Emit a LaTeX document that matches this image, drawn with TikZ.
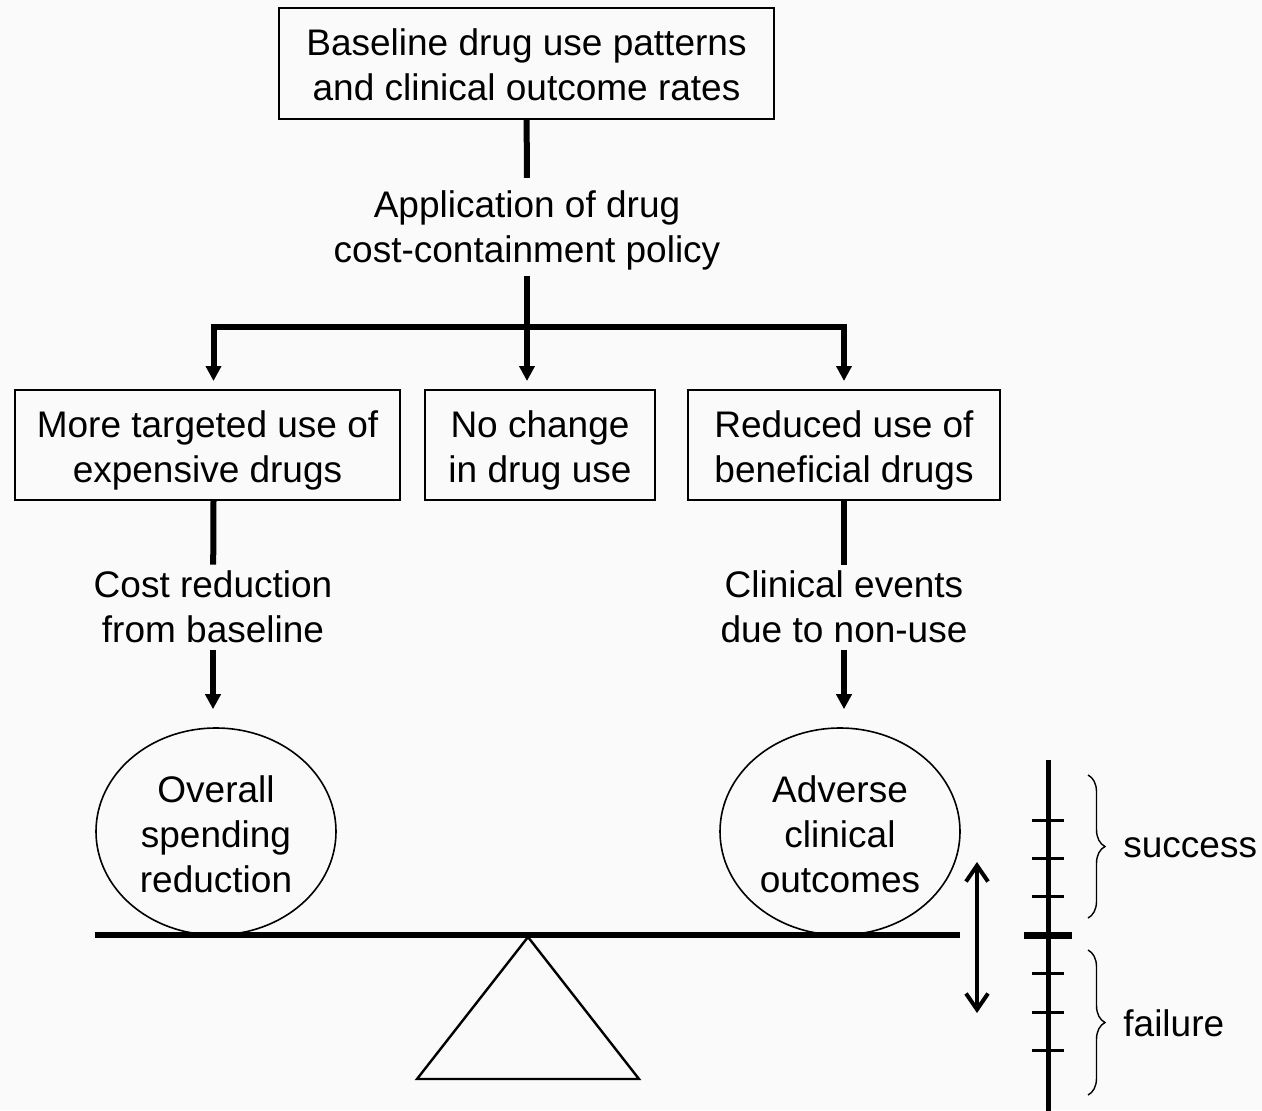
\documentclass[tikz,border=0pt]{standalone}
\usepackage{fontspec}
\setmainfont{Liberation Sans}
\usepackage{tikz}
\usetikzlibrary{positioning, arrows, arrows.meta, shapes.geometric, decorations.pathreplacing}
\definecolor{paper}{RGB}{250,250,250}
\newcommand{\lift}[1]{\rule{0pt}{#1}}

\begin{document}
\begin{tikzpicture}[x=0.5pt, y=-0.5pt,
  font=\fontsize{18.5}{22.5}\selectfont,
  box/.style={draw, line width=1pt, align=center, inner sep=0pt},
  lbl/.style={align=center, inner sep=3pt},
  pot/.style={draw, ellipse, line width=0.8pt, align=center, inner sep=0pt, minimum width=120pt, minimum height=103.5pt},
  link/.style={line width=3pt},
  arr/.style={line width=3pt, -{Triangle[width=7.5pt,length=7.5pt]}},
  tick/.style={line width=1.5pt}]
\fill[paper] (0,0) rectangle (1262,1110);
\useasboundingbox (0,0) rectangle (1262,1110);

\node[box, minimum width=247.5pt, minimum height=55.5pt] (base) at (526.5,63.5) {\lift{15pt}Baseline drug use patterns\\and clinical outcome rates};
\node[lbl] (apply) at (527,227) {\lift{16.5pt}Application of drug\\cost-containment policy};
\coordinate (split) at (527,327);

\node[box, minimum width=192.5pt, minimum height=55pt] (more) at (207.5,445) {\lift{18.5pt}More targeted use of\\expensive drugs};
\node[box, minimum width=115pt, minimum height=55pt] (same) at (540,445) {\lift{18.5pt}No change\\in drug use};
\node[box, minimum width=156pt, minimum height=55pt] (less) at (844,445) {\lift{18.5pt}Reduced use of\\beneficial drugs};

\node[lbl] (cost) at (213,607) {Cost reduction\\from baseline};
\node[lbl] (events) at (844,607) {Clinical events\\due to non-use};

\node[pot] (spend) at (216,831.5) {\lift{16pt}Overall\\spending\\reduction};
\node[pot] (harm) at (840,831.5) {\lift{16pt}Adverse\\clinical\\outcomes};

\draw[link] (base) -- (apply);
\draw[link] (apply) -- (split);
\draw[arr, shorten >=4pt] (split) -| ([xshift=3pt]more.north);
\draw[arr, shorten >=4pt] (split) -- ([xshift=-6.5pt]same.north);
\draw[arr, shorten >=4pt] (split) -| (less.north);

\draw[link] ([xshift=3pt]more.south) -- (cost);
\draw[link] (less) -- (events);
\draw[arr, shorten >=9pt] (cost) -- (cost |- spend.north);
\draw[arr, shorten >=9pt] (events) -- (events |- harm.north);

% the balance
\draw[line width=3pt] (95,935) -- (960,935);
\draw[line width=1.2pt, line join=miter] (528,937) -- (639,1079) -- (417,1079) -- cycle;
\draw[line width=2pt, {Straight Barb[width=11pt,length=8pt]}-{Straight Barb[width=11pt,length=8pt]}] (977,862) -- (977,1013);

% the scale
\draw[line width=2.5pt] (1048,760) -- (1048,1112);
\foreach \y in {820,858,896,973,1012,1050}
  \draw[tick] (1032,\y) -- (1064,\y);
\draw[line width=3.5pt] (1024,935) -- (1072,935);
\draw[line width=0.7pt, decorate, decoration={brace, amplitude=8.5pt}] (1088,775) -- (1088,918);
\draw[line width=0.7pt, decorate, decoration={brace, amplitude=8.5pt}] (1088,950) -- (1088,1095);
\node[anchor=west, inner sep=0pt] (succ) at (1123,848) {success};
\node[anchor=west, inner sep=0pt] (fail) at (1123,1023) {failure};
\end{tikzpicture}
\end{document}
